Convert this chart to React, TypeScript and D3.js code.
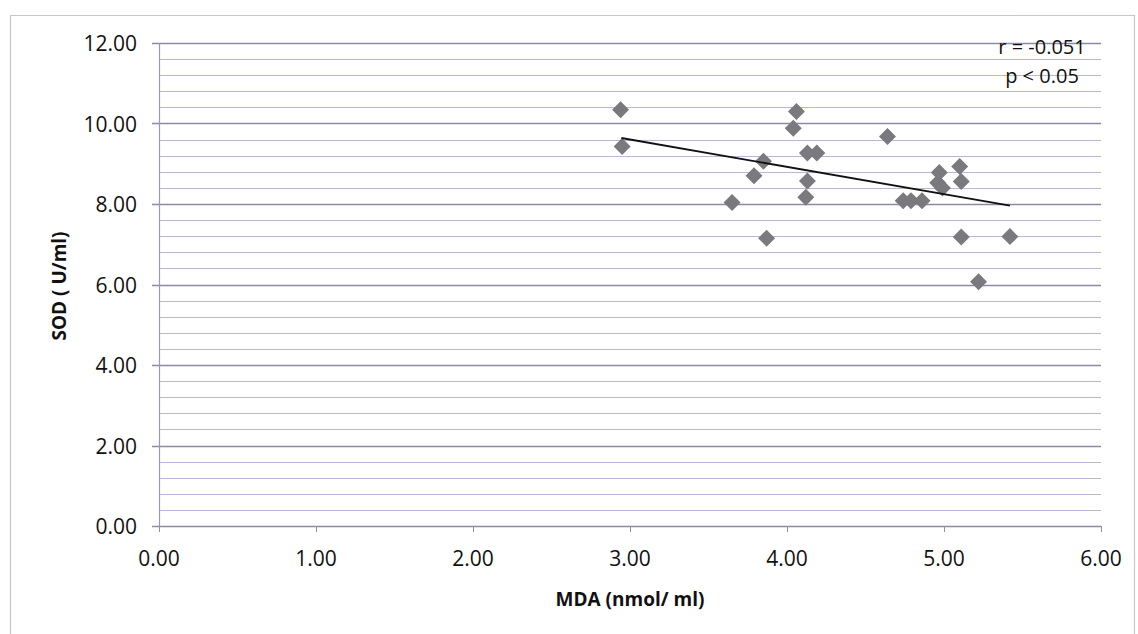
import React, { useEffect, useRef } from 'react';
import * as d3 from 'd3';

// MDA (x) vs SOD (y) readings
const mdaValues = [2.94, 2.95, 4.06, 4.04, 4.64, 4.13, 4.19, 3.85, 3.79, 4.13, 4.12, 3.65, 3.87,
  4.74, 4.79, 4.86, 5.10, 5.11, 4.97, 4.96, 4.99, 5.11, 5.42, 5.22];
const sodValues = [10.34, 9.43, 10.30, 9.88, 9.68, 9.27, 9.27, 9.06, 8.70, 8.57, 8.17, 8.04, 7.15,
  8.08, 8.08, 8.08, 8.93, 8.56, 8.78, 8.53, 8.40, 7.18, 7.19, 6.07];

// linear trend line end points
const trendX = [2.945, 5.42];
const trendY = [9.64, 7.96];

const xTicks = [0, 1, 2, 3, 4, 5, 6];
const yTicks = [0, 2, 4, 6, 8, 10, 12];
const notes = ['r = -0.051', 'p < 0.05'];

const W = 1138;
const H = 634;
const font = "'Open Sans', sans-serif";

const App = () => {
  const ref = useRef<SVGSVGElement>(null);

  useEffect(() => {
    const svg = d3.select(ref.current);
    svg.selectAll('*').remove();

    const left = 159, right = 1101, top = 43, bottom = 526;

    const x = d3.scaleLinear().domain([0, 6]).range([left, right]);
    const y = d3.scaleLinear().domain([0, 12]).range([bottom, top]);

    svg.append('rect').attr('width', W).attr('height', H).attr('fill', '#fff');

    // outer chart border (dotted)
    svg.append('rect')
      .attr('x', 10.5).attr('y', 15.5)
      .attr('width', 1124).attr('height', 640)
      .attr('fill', 'none')
      .attr('stroke', '#8e8ea0')
      .attr('stroke-width', 1.2)
      .attr('stroke-dasharray', '1,1');

    // minor gridlines every 0.4
    const minor = d3.range(0.4, 12.01, 0.4).filter(v => Math.abs(v / 2 - Math.round(v / 2)) > 0.01);
    svg.append('g').selectAll('line')
      .data(minor)
      .enter()
      .append('line')
      .attr('x1', left).attr('x2', right)
      .attr('y1', d => Math.round(y(d)) + 0.5)
      .attr('y2', d => Math.round(y(d)) + 0.5)
      .attr('stroke', '#b8b8d4')
      .attr('stroke-width', 1.2);

    // major gridlines
    svg.append('g').selectAll('line')
      .data(yTicks)
      .enter()
      .append('line')
      .attr('x1', left - 7).attr('x2', right)
      .attr('y1', d => Math.round(y(d)) + 0.5)
      .attr('y2', d => Math.round(y(d)) + 0.5)
      .attr('stroke', '#8a8aa2')
      .attr('stroke-width', 1.4);

    // y axis line
    svg.append('line')
      .attr('x1', left + 0.5).attr('x2', left + 0.5)
      .attr('y1', y(12)).attr('y2', y(0))
      .attr('stroke', '#9a9aae').attr('stroke-width', 1.2);

    // x axis ticks
    svg.append('g').selectAll('line')
      .data(xTicks)
      .enter()
      .append('line')
      .attr('x1', d => Math.round(x(d)) + 0.5)
      .attr('x2', d => Math.round(x(d)) + 0.5)
      .attr('y1', y(0)).attr('y2', y(0) + 6)
      .attr('stroke', '#8f8fa6');

    // tick labels
    svg.append('g').selectAll('text')
      .data(yTicks)
      .enter()
      .append('text')
      .attr('x', 137)
      .attr('y', d => y(d) + 8)
      .attr('text-anchor', 'end')
      .attr('font-family', font)
      .attr('font-size', 21)
      .attr('fill', '#111')
      .text(d => d.toFixed(2));

    svg.append('g').selectAll('text')
      .data(xTicks)
      .enter()
      .append('text')
      .attr('x', d => x(d))
      .attr('y', 566)
      .attr('text-anchor', 'middle')
      .attr('font-family', font)
      .attr('font-size', 21)
      .attr('fill', '#111')
      .text(d => d.toFixed(2));

    // axis titles
    svg.append('text')
      .attr('x', 630).attr('y', 606)
      .attr('text-anchor', 'middle')
      .attr('font-family', font)
      .attr('font-size', 19)
      .attr('font-weight', 'bold')
      .attr('fill', '#111')
      .text('MDA (nmol/ ml)');

    svg.append('text')
      .attr('transform', 'translate(66,286) rotate(-90)')
      .attr('text-anchor', 'middle')
      .attr('font-family', font)
      .attr('font-size', 19)
      .attr('font-weight', 'bold')
      .attr('fill', '#111')
      .text('SOD ( U/ml)');

    // points
    const diamond = d3.symbol().type(d3.symbolDiamond2).size(184);
    svg.append('g').selectAll('path')
      .data(mdaValues)
      .enter()
      .append('path')
      .attr('d', diamond)
      .attr('transform', (d, i) => `translate(${x(d)},${y(sodValues[i])})`)
      .attr('fill', '#7a7a7e');

    // trend line
    const line = d3.line<number>()
      .x(d => x(d))
      .y((d, i) => y(trendY[i]));
    svg.append('path')
      .datum(trendX)
      .attr('d', line)
      .attr('fill', 'none')
      .attr('stroke', '#111')
      .attr('stroke-width', 1.8);

    // stats annotation
    svg.append('g').selectAll('text')
      .data(notes)
      .enter()
      .append('text')
      .attr('x', 1042)
      .attr('y', (d, i) => 54 + i * 29)
      .attr('text-anchor', 'middle')
      .attr('font-family', font)
      .attr('font-size', 20)
      .attr('fill', '#111')
      .text(d => d);
  }, []);

  return <svg ref={ref} width={W} height={H} style={{ position: 'absolute', left: 0, top: 0 }}></svg>;
};

export default App;
